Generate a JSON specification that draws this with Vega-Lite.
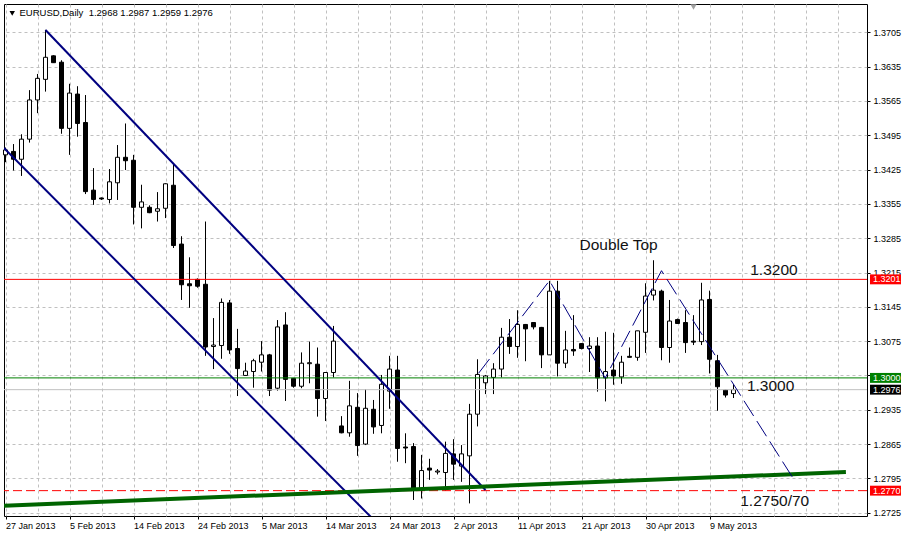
{
  "$schema": "https://vega.github.io/schema/vega-lite/v6.json",
  "autosize": {"type": "none"},
  "padding": {"left": 4, "top": 4, "right": 42, "bottom": 20},
  "width": 863,
  "height": 512,
  "background": "white",
  "config": {
    "view": {"stroke": "black", "strokeWidth": 1},
    "font": "Liberation Sans",
    "axis": {"labelOverlap": false, "labelSeparation": 0},
    "scale": {"continuousPadding": 0}
  },
  "datasets": {
    "candles": [
      {"i":0,"d":"2013-01-27","o":1.3455,"h":1.3470,"l":1.3440,"c":1.3465},
      {"i":1,"d":"2013-01-28","o":1.3462,"h":1.3477,"l":1.3423,"c":1.3446},
      {"i":2,"d":"2013-01-29","o":1.3446,"h":1.3497,"l":1.3412,"c":1.3487},
      {"i":3,"d":"2013-01-30","o":1.3487,"h":1.3587,"l":1.3480,"c":1.3567},
      {"i":4,"d":"2013-01-31","o":1.3567,"h":1.3620,"l":1.3540,"c":1.3611},
      {"i":5,"d":"2013-02-01","o":1.3609,"h":1.3710,"l":1.3584,"c":1.3654},
      {"i":6,"d":"2013-02-03","o":1.3657,"h":1.3658,"l":1.3643,"c":1.3643},
      {"i":7,"d":"2013-02-04","o":1.3644,"h":1.3648,"l":1.3498,"c":1.3509},
      {"i":8,"d":"2013-02-05","o":1.3509,"h":1.3600,"l":1.3455,"c":1.3581},
      {"i":9,"d":"2013-02-06","o":1.3579,"h":1.3595,"l":1.3492,"c":1.3519},
      {"i":10,"d":"2013-02-07","o":1.3521,"h":1.3577,"l":1.3375,"c":1.3380},
      {"i":11,"d":"2013-02-08","o":1.3383,"h":1.3428,"l":1.3353,"c":1.3364},
      {"i":12,"d":"2013-02-10","o":1.3367,"h":1.3368,"l":1.3363,"c":1.3365},
      {"i":13,"d":"2013-02-11","o":1.3364,"h":1.3426,"l":1.3356,"c":1.3400},
      {"i":14,"d":"2013-02-12","o":1.3398,"h":1.3475,"l":1.3363,"c":1.3450},
      {"i":15,"d":"2013-02-13","o":1.3450,"h":1.3519,"l":1.3424,"c":1.3443},
      {"i":16,"d":"2013-02-14","o":1.3444,"h":1.3455,"l":1.3313,"c":1.3348},
      {"i":17,"d":"2013-02-15","o":1.3348,"h":1.3394,"l":1.3305,"c":1.3359},
      {"i":18,"d":"2013-02-17","o":1.3348,"h":1.3352,"l":1.3336,"c":1.3337},
      {"i":19,"d":"2013-02-18","o":1.3340,"h":1.3379,"l":1.3319,"c":1.3345},
      {"i":20,"d":"2013-02-19","o":1.3346,"h":1.3397,"l":1.3326,"c":1.3396},
      {"i":21,"d":"2013-02-20","o":1.3393,"h":1.3438,"l":1.3265,"c":1.3270},
      {"i":22,"d":"2013-02-21","o":1.3273,"h":1.3289,"l":1.3159,"c":1.3190},
      {"i":23,"d":"2013-02-22","o":1.3192,"h":1.3246,"l":1.3143,"c":1.3188},
      {"i":24,"d":"2013-02-24","o":1.3201,"h":1.3203,"l":1.3184,"c":1.3187},
      {"i":25,"d":"2013-02-25","o":1.3191,"h":1.3319,"l":1.3045,"c":1.3063},
      {"i":26,"d":"2013-02-26","o":1.3064,"h":1.3122,"l":1.3018,"c":1.3067},
      {"i":27,"d":"2013-02-27","o":1.3066,"h":1.3162,"l":1.3039,"c":1.3154},
      {"i":28,"d":"2013-02-28","o":1.3153,"h":1.3159,"l":1.3049,"c":1.3057},
      {"i":29,"d":"2013-03-01","o":1.3060,"h":1.3100,"l":1.2963,"c":1.3019},
      {"i":30,"d":"2013-03-03","o":1.3005,"h":1.3031,"l":1.3004,"c":1.3014},
      {"i":31,"d":"2013-03-04","o":1.3013,"h":1.3039,"l":1.2980,"c":1.3035},
      {"i":32,"d":"2013-03-05","o":1.3032,"h":1.3075,"l":1.3013,"c":1.3047},
      {"i":33,"d":"2013-03-06","o":1.3047,"h":1.3049,"l":1.2963,"c":1.2975},
      {"i":34,"d":"2013-03-07","o":1.2979,"h":1.3118,"l":1.2974,"c":1.3104},
      {"i":35,"d":"2013-03-08","o":1.3108,"h":1.3134,"l":1.2953,"c":1.2997},
      {"i":36,"d":"2013-03-10","o":1.2999,"h":1.3000,"l":1.2980,"c":1.2983},
      {"i":37,"d":"2013-03-11","o":1.2983,"h":1.3052,"l":1.2979,"c":1.3030},
      {"i":38,"d":"2013-03-12","o":1.3029,"h":1.3074,"l":1.2989,"c":1.3031},
      {"i":39,"d":"2013-03-13","o":1.3028,"h":1.3062,"l":1.2921,"c":1.2958},
      {"i":40,"d":"2013-03-14","o":1.2958,"h":1.3011,"l":1.2912,"c":1.3011},
      {"i":41,"d":"2013-03-15","o":1.3011,"h":1.3106,"l":1.3001,"c":1.3075},
      {"i":42,"d":"2013-03-17","o":1.2902,"h":1.2922,"l":1.2887,"c":1.2888},
      {"i":43,"d":"2013-03-18","o":1.2888,"h":1.2994,"l":1.2880,"c":1.2943},
      {"i":44,"d":"2013-03-19","o":1.2940,"h":1.2969,"l":1.2841,"c":1.2862},
      {"i":45,"d":"2013-03-20","o":1.2865,"h":1.2977,"l":1.2863,"c":1.2938},
      {"i":46,"d":"2013-03-21","o":1.2936,"h":1.2955,"l":1.2886,"c":1.2900},
      {"i":47,"d":"2013-03-22","o":1.2903,"h":1.3006,"l":1.2887,"c":1.2987},
      {"i":48,"d":"2013-03-24","o":1.2973,"h":1.3045,"l":1.2937,"c":1.3018},
      {"i":49,"d":"2013-03-25","o":1.3016,"h":1.3045,"l":1.2829,"c":1.2856},
      {"i":50,"d":"2013-03-26","o":1.2859,"h":1.2887,"l":1.2826,"c":1.2857},
      {"i":51,"d":"2013-03-27","o":1.2860,"h":1.2867,"l":1.2751,"c":1.2771},
      {"i":52,"d":"2013-03-28","o":1.2771,"h":1.2843,"l":1.2754,"c":1.2811},
      {"i":53,"d":"2013-03-29","o":1.2816,"h":1.2835,"l":1.2792,"c":1.2812},
      {"i":54,"d":"2013-03-31","o":1.2808,"h":1.2814,"l":1.2803,"c":1.2810},
      {"i":55,"d":"2013-04-01","o":1.2807,"h":1.2870,"l":1.2770,"c":1.2846},
      {"i":56,"d":"2013-04-02","o":1.2845,"h":1.2875,"l":1.2792,"c":1.2824},
      {"i":57,"d":"2013-04-03","o":1.2820,"h":1.2863,"l":1.2788,"c":1.2845},
      {"i":58,"d":"2013-04-04","o":1.2841,"h":1.2947,"l":1.2744,"c":1.2926},
      {"i":59,"d":"2013-04-05","o":1.2926,"h":1.3038,"l":1.2901,"c":1.3007},
      {"i":60,"d":"2013-04-07","o":1.2990,"h":1.3006,"l":1.2967,"c":1.3004},
      {"i":61,"d":"2013-04-08","o":1.3001,"h":1.3030,"l":1.2967,"c":1.3018},
      {"i":62,"d":"2013-04-09","o":1.3018,"h":1.3102,"l":1.3001,"c":1.3083},
      {"i":63,"d":"2013-04-10","o":1.3083,"h":1.3120,"l":1.3049,"c":1.3064},
      {"i":64,"d":"2013-04-11","o":1.3064,"h":1.3138,"l":1.3041,"c":1.3109},
      {"i":65,"d":"2013-04-12","o":1.3109,"h":1.3110,"l":1.3034,"c":1.3100},
      {"i":66,"d":"2013-04-14","o":1.3113,"h":1.3113,"l":1.3099,"c":1.3104},
      {"i":67,"d":"2013-04-15","o":1.3103,"h":1.3104,"l":1.3020,"c":1.3047},
      {"i":68,"d":"2013-04-16","o":1.3047,"h":1.3198,"l":1.3047,"c":1.3177},
      {"i":69,"d":"2013-04-17","o":1.3177,"h":1.3198,"l":1.3003,"c":1.3030},
      {"i":70,"d":"2013-04-18","o":1.3030,"h":1.3096,"l":1.3020,"c":1.3057},
      {"i":71,"d":"2013-04-19","o":1.3058,"h":1.3128,"l":1.3045,"c":1.3055},
      {"i":72,"d":"2013-04-21","o":1.3070,"h":1.3071,"l":1.3058,"c":1.3060},
      {"i":73,"d":"2013-04-22","o":1.3060,"h":1.3083,"l":1.3012,"c":1.3065},
      {"i":74,"d":"2013-04-23","o":1.3065,"h":1.3083,"l":1.2972,"c":1.3000},
      {"i":75,"d":"2013-04-24","o":1.3000,"h":1.3094,"l":1.2952,"c":1.3013},
      {"i":76,"d":"2013-04-25","o":1.3016,"h":1.3092,"l":1.2986,"c":1.3004},
      {"i":77,"d":"2013-04-26","o":1.3002,"h":1.3045,"l":1.2988,"c":1.3032},
      {"i":78,"d":"2013-04-28","o":1.3044,"h":1.3062,"l":1.3042,"c":1.3042},
      {"i":79,"d":"2013-04-29","o":1.3042,"h":1.3096,"l":1.3035,"c":1.3096},
      {"i":80,"d":"2013-04-30","o":1.3093,"h":1.3193,"l":1.3051,"c":1.3167},
      {"i":81,"d":"2013-05-01","o":1.3169,"h":1.3240,"l":1.3158,"c":1.3179},
      {"i":82,"d":"2013-05-02","o":1.3177,"h":1.3180,"l":1.3036,"c":1.3062},
      {"i":83,"d":"2013-05-03","o":1.3062,"h":1.3159,"l":1.3031,"c":1.3116},
      {"i":84,"d":"2013-05-05","o":1.3119,"h":1.3121,"l":1.3110,"c":1.3111},
      {"i":85,"d":"2013-05-06","o":1.3113,"h":1.3138,"l":1.3051,"c":1.3072},
      {"i":86,"d":"2013-05-07","o":1.3075,"h":1.3128,"l":1.3067,"c":1.3073},
      {"i":87,"d":"2013-05-08","o":1.3074,"h":1.3194,"l":1.3067,"c":1.3159},
      {"i":88,"d":"2013-05-09","o":1.3160,"h":1.3178,"l":1.3009,"c":1.3038},
      {"i":89,"d":"2013-05-10","o":1.3035,"h":1.3047,"l":1.2933,"c":1.2982},
      {"i":90,"d":"2013-05-12","o":1.2975,"h":1.2976,"l":1.2960,"c":1.2965},
      {"i":91,"d":"2013-05-13","o":1.2968,"h":1.2987,"l":1.2959,"c":1.2976}
    ],
    "channel": [
      {"ln":"upper","i":5,"p":1.37097},
      {"ln":"upper","i":60,"p":1.27713},
      {"ln":"lower","i":-0.2,"p":1.34690},
      {"ln":"lower","i":46.8,"p":1.26979}
    ],
    "support": [
      {"i":-0.2,"p":1.27393},
      {"i":105.05,"p":1.2808}
    ],
    "zigzag": [
      {"k":0,"i":59.13,"p":1.30094},
      {"k":1,"i":68,"p":1.31983},
      {"k":2,"i":74.96,"p":1.29998},
      {"k":3,"i":82,"p":1.32187},
      {"k":4,"i":98.59,"p":1.27917}
    ],
    "notes": [
      {"i":71.75,"p":1.32615,"t":"Double Top"},
      {"i":93.09,"p":1.32099,"t":"1.3200"},
      {"i":92.68,"p":1.29733,"t":"1.3000"},
      {"i":91.84,"p":1.27393,"t":"1.2750/70"}
    ],
    "levels": [
      {"p":1.3201,"kind":"resistance","t":"1.3201"},
      {"p":1.3000,"kind":"support","t":"1.3000"},
      {"p":1.2976,"kind":"bid","t":"1.2976"},
      {"p":1.2770,"kind":"target","t":"1.2770"}
    ]
  },
  "layer": [
    {
      "data": {"name": "candles"},
      "mark": {"type": "rule", "color": "black", "strokeWidth": 1},
      "encoding": {
        "x": {
          "field": "i", "type": "quantitative", "title": null,
          "scale": {"domain": [-0.1875, 107.6875], "nice": false, "zero": false, "padding": 0},
          "axis": {
            "values": [0,4,8,12,16,20,24,28,32,36,40,44,48,52,56,60,64,68,72,76,80,84,88,92,96,100,104],
            "tickCount": 60,
            "grid": true, "gridColor": "#c0c0c0", "gridDash": [3,3], "gridWidth": 1,
            "domain": false,
            "tickSize": 3, "tickColor": "black",
            "tickOpacity": {"condition": {"test": "datum.value % 8 === 0 && datum.value <= 88", "value": 1}, "value": 0},
            "labelExpr": "datum.value % 8 === 0 && datum.value <= 88 ? ['27 Jan 2013','5 Feb 2013','14 Feb 2013','24 Feb 2013','5 Mar 2013','14 Mar 2013','24 Mar 2013','2 Apr 2013','11 Apr 2013','21 Apr 2013','30 Apr 2013','9 May 2013'][datum.value / 8] : ''",
            "labelAlign": "left", "labelBaseline": "top",
            "labelFont": "Liberation Sans", "labelFontSize": 9, "labelColor": "black",
            "labelPadding": 2, "labelOverlap": false, "labelFlush": false, "labelBound": false
          }
        },
        "y": {
          "field": "l", "type": "quantitative", "title": null,
          "scale": {"domain": [1.27183, 1.37627], "nice": false, "zero": false, "padding": 0},
          "axis": {
            "orient": "right",
            "values": [1.2725,1.2795,1.2865,1.2935,1.3005,1.3075,1.3145,1.3215,1.3285,1.3355,1.3425,1.3495,1.3565,1.3635,1.3705],
            "tickCount": 40,
            "format": ".4f",
            "labelExpr": "abs(datum.value - 1.3005) < 0.00001 ? '' : datum.label",
            "grid": true, "gridColor": "#c0c0c0", "gridDash": [3,3], "gridWidth": 1,
            "domain": false,
            "tickSize": 3, "tickColor": "black",
            "labelFont": "Liberation Sans", "labelFontSize": 9, "labelColor": "black",
            "labelPadding": 3, "labelOverlap": false, "labelBound": false
          }
        },
        "y2": {"field": "h"}
      }
    },
    {
      "data": {"name": "candles"},
      "mark": {"type": "bar", "width": 4, "stroke": "black", "strokeWidth": 1},
      "encoding": {
        "x": {"field": "i", "type": "quantitative", "title": null},
        "y": {"field": "o", "type": "quantitative", "title": null},
        "y2": {"field": "c"},
        "fill": {"condition": {"test": "datum.c >= datum.o", "value": "white"}, "value": "black"}
      }
    },
    {
      "data": {"values": [{"p": 1.2976}]},
      "mark": {"type": "rule", "color": "#c0c0c0", "strokeWidth": 1},
      "encoding": {"y": {"field": "p", "type": "quantitative", "title": null}}
    },
    {
      "data": {"values": [{"p": 1.3201}]},
      "mark": {"type": "rule", "color": "#ff0000", "strokeWidth": 1},
      "encoding": {"y": {"field": "p", "type": "quantitative", "title": null}}
    },
    {
      "data": {"values": [{"p": 1.3000}]},
      "mark": {"type": "rule", "color": "#008000", "strokeWidth": 1},
      "encoding": {"y": {"field": "p", "type": "quantitative", "title": null}}
    },
    {
      "data": {"values": [{"p": 1.2770}]},
      "mark": {"type": "rule", "color": "#ff0000", "strokeWidth": 1, "strokeDash": [9, 4]},
      "encoding": {"y": {"field": "p", "type": "quantitative", "title": null}}
    },
    {
      "data": {"name": "channel"},
      "mark": {"type": "line", "color": "#000080", "strokeWidth": 2, "clip": true},
      "encoding": {
        "x": {"field": "i", "type": "quantitative", "title": null},
        "y": {"field": "p", "type": "quantitative", "title": null},
        "detail": {"field": "ln"}
      }
    },
    {
      "data": {"name": "support"},
      "mark": {"type": "line", "color": "#006400", "strokeWidth": 4, "clip": true},
      "encoding": {
        "x": {"field": "i", "type": "quantitative", "title": null},
        "y": {"field": "p", "type": "quantitative", "title": null}
      }
    },
    {
      "data": {"name": "zigzag"},
      "mark": {"type": "line", "color": "#000080", "strokeWidth": 1, "strokeDash": [18, 6]},
      "encoding": {
        "x": {"field": "i", "type": "quantitative", "title": null},
        "y": {"field": "p", "type": "quantitative", "title": null},
        "order": {"field": "k"}
      }
    },
    {
      "data": {"name": "notes"},
      "mark": {"type": "text", "align": "left", "baseline": "alphabetic", "font": "Liberation Sans", "fontSize": 15.5, "color": "#111111"},
      "encoding": {
        "x": {"field": "i", "type": "quantitative", "title": null},
        "y": {"field": "p", "type": "quantitative", "title": null},
        "text": {"field": "t"}
      }
    },
    {
      "data": {"values": [{"i": 1.75, "p": 1.37383, "t": "EURUSD,Daily\u00a0\u00a01.2968 1.2987 1.2959 1.2976"}]},
      "mark": {"type": "text", "align": "left", "baseline": "alphabetic", "font": "Liberation Sans", "fontSize": 9.5, "color": "black"},
      "encoding": {
        "x": {"field": "i", "type": "quantitative", "title": null},
        "y": {"field": "p", "type": "quantitative", "title": null},
        "text": {"field": "t"}
      }
    },
    {
      "data": {"values": [{"i": 0.84, "p": 1.37434}]},
      "mark": {"type": "point", "shape": "triangle-down", "size": 30, "filled": true, "color": "black", "opacity": 1},
      "encoding": {
        "x": {"field": "i", "type": "quantitative", "title": null},
        "y": {"field": "p", "type": "quantitative", "title": null}
      }
    },
    {
      "data": {"values": [{"i": 86, "p": 1.37566}]},
      "mark": {"type": "point", "shape": "triangle-down", "size": 40, "filled": true, "color": "#a0a0a0", "opacity": 1},
      "encoding": {
        "x": {"field": "i", "type": "quantitative", "title": null},
        "y": {"field": "p", "type": "quantitative", "title": null}
      }
    },
    {
      "data": {"name": "levels"},
      "mark": {"type": "point", "shape": "M-1,-0.32L1,-0.32L1,0.32L-1,0.32Z", "size": 961, "filled": true, "opacity": 1, "strokeWidth": 0},
      "encoding": {
        "x": {"datum": 110, "type": "quantitative"},
        "y": {"field": "p", "type": "quantitative", "title": null},
        "color": {
          "field": "kind", "type": "nominal", "legend": null,
          "scale": {"domain": ["resistance", "support", "bid", "target"], "range": ["#ff0000", "#008000", "#000000", "#ff0000"]}
        }
      }
    },
    {
      "data": {"name": "levels"},
      "mark": {"type": "text", "align": "left", "baseline": "middle", "font": "Liberation Sans", "fontSize": 9, "color": "white"},
      "encoding": {
        "x": {"datum": 108.45, "type": "quantitative"},
        "y": {"field": "p", "type": "quantitative", "title": null},
        "text": {"field": "t"}
      }
    }
  ]
}
